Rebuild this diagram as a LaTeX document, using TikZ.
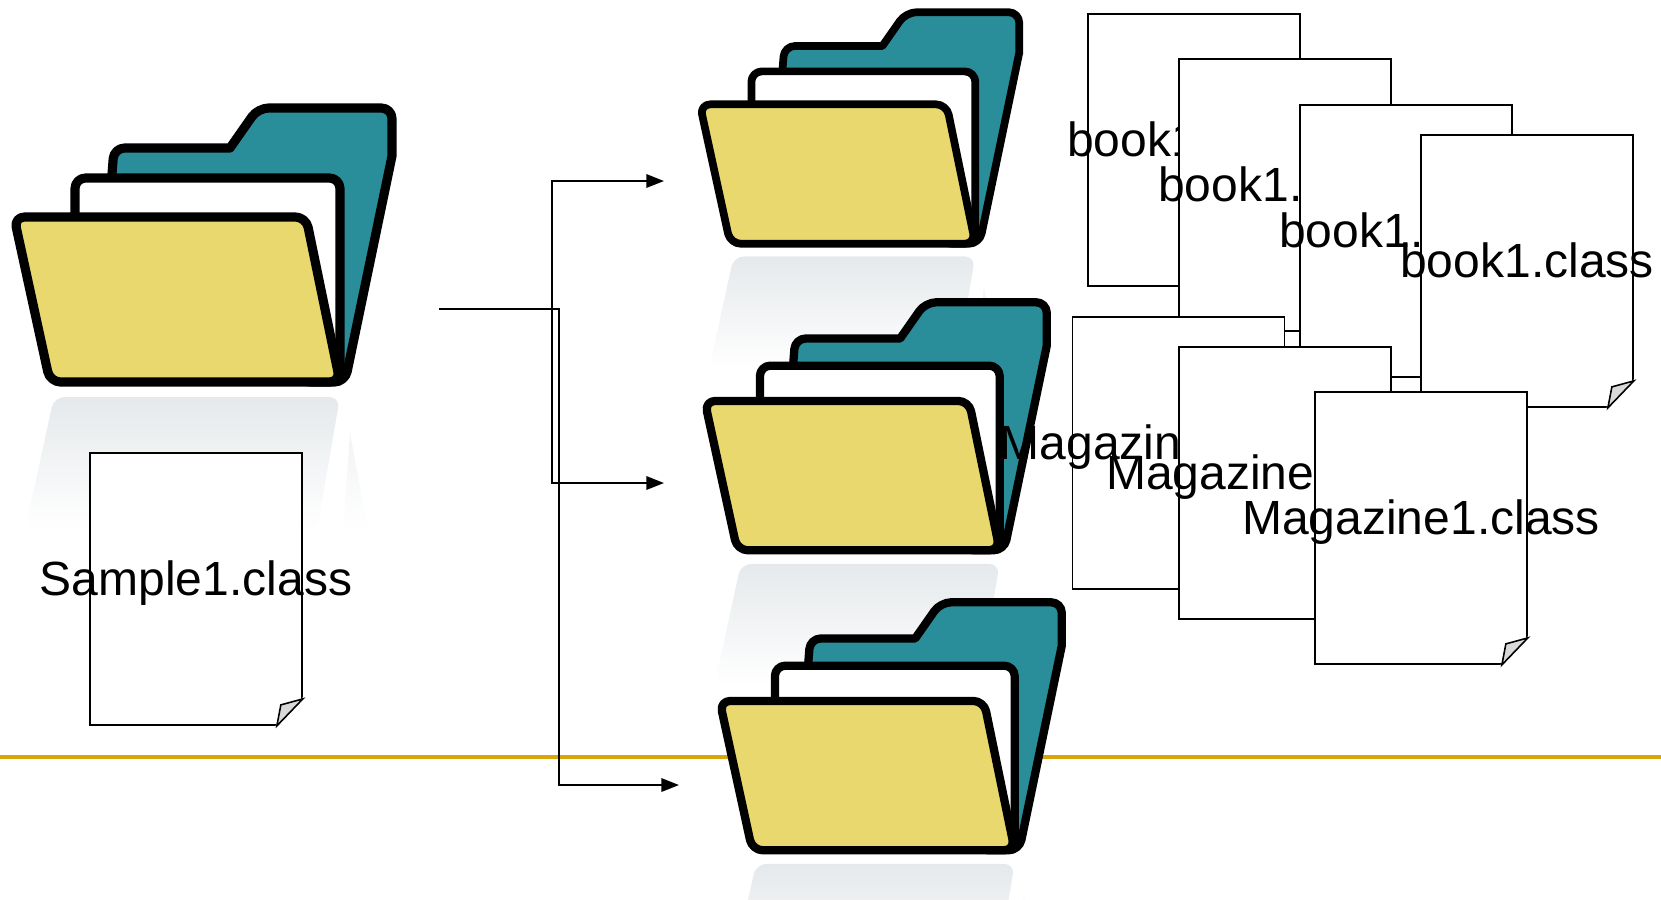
\documentclass[tikz,border=0pt]{standalone}
\usepackage{fontspec}
\setmainfont{Liberation Sans}
\usetikzlibrary{arrows.meta, calc}
\definecolor{FolderTeal}{HTML}{2A8E9A}
\definecolor{FolderYellow}{HTML}{E8D86E}
\definecolor{RuleGold}{HTML}{DAA50A}
\definecolor{GlowGray}{HTML}{E5E9EB}
\definecolor{FoldGray}{HTML}{D9D9D9}
\tikzset{
    folderline/.style={draw=black, line join=round, rounded corners=3pt},
    glow/.style={top color=GlowGray, bottom color=white, draw=none},
    pagebox/.style={draw=black, fill=white, line width=0.45pt, inner sep=0pt,
                    minimum width=2.12cm, minimum height=2.72cm},
    pagetext/.style={anchor=base, inner sep=0pt, text=black,
                     font=\fontsize{13.65}{16}\selectfont},
    conn/.style={draw=black, line width=0.55pt,
                 -{Triangle[length=5pt,width=3.8pt]}},
}
% one open folder with its reflection: x, y, size
\newcommand{\openfolder}[3]{
\begin{scope}[shift={(#1,#2)}, scale=#3]
    \path[glow, rounded corners=3pt] (54,307) -- (340,307) -- (317,440)
        -- (25,440) -- cycle;
    \path[top color=GlowGray!55, bottom color=white, draw=none]
        (350,343) -- (368,440) -- (343,440) -- cycle;
    \path[folderline, fill=FolderTeal, line width=#3*2.6pt]
        (110,110) -- (114,58) [sharp corners] -- (230,58) [rounded corners=3pt] -- (258,18)
        -- (392,18) [sharp corners] -- (392,66) [rounded corners=3pt]
        -- (345,292) -- (300,292) -- cycle;
    \path[folderline, fill=white, line width=#3*2.6pt]
        (75,135) -- (75,88) -- (340,88) -- (340,290) -- (200,290) -- cycle;
    \path[folderline, fill=FolderYellow, line width=#3*2.6pt]
        (14,127) -- (306,127) -- (340,292) -- (50,292) -- cycle;
\end{scope}
}
% one sheet with its folded corner, then its label: name, x, y, label
\newcommand{\classpage}[4]{
    \node[pagebox] (#1) at (#2,#3) {};
    \path[fill=white, draw=white, line width=0.6pt] (#1.south east)
        -- ($(#1.south east)+(-26,0)$) -- ($(#1.south east)+(0,-27)$) -- cycle;
    \path[draw=black, fill=FoldGray, line width=0.45pt]
        ($(#1.south east)+(-26,0)$) -- ($(#1.south east)+(0,-27)$)
        -- ($(#1.south east)+(-22,-21)$) -- cycle;
    \node[pagetext] (#1text) at ($(#1.center)+(0,6)$) {#4};
}

\begin{document}
\begin{tikzpicture}[x=0.01cm, y=-0.01cm]
\clip (0,0) rectangle (1661,899);
\draw[RuleGold, line width=1pt] (0,757) -- (1661,757);

\openfolder{0}{90}{1}
\openfolder{688}{-3}{0.845}
\openfolder{692}{286}{0.905}
\openfolder{707}{586}{0.905}

\coordinate (src) at (439,309);
\coordinate (bendA) at (552,309);
\coordinate (bendB) at (559,309);
\coordinate (dstA) at (664,181);
\coordinate (dstB) at (664,483);
\coordinate (dstC) at (679,785);
\draw[conn] (src) -- (bendA) |- (dstA);
\draw[conn] (src) -- (bendA) |- (dstB);
\draw[conn] (src) -- (bendB) |- (dstC);

\classpage{sample}{196}{589}{Sample1.class}
\classpage{bookA}{1194}{150}{book1.class}
\classpage{bookB}{1285}{195}{book1.class}
\classpage{bookC}{1406}{241}{book1.class}
\classpage{bookD}{1527}{271}{book1.class}
\classpage{magA}{1178.5}{453}{Magazine1.class}
\classpage{magB}{1285}{483}{Magazine1.class}
\classpage{magC}{1421}{528}{Magazine1.class}
\end{tikzpicture}
\end{document}
